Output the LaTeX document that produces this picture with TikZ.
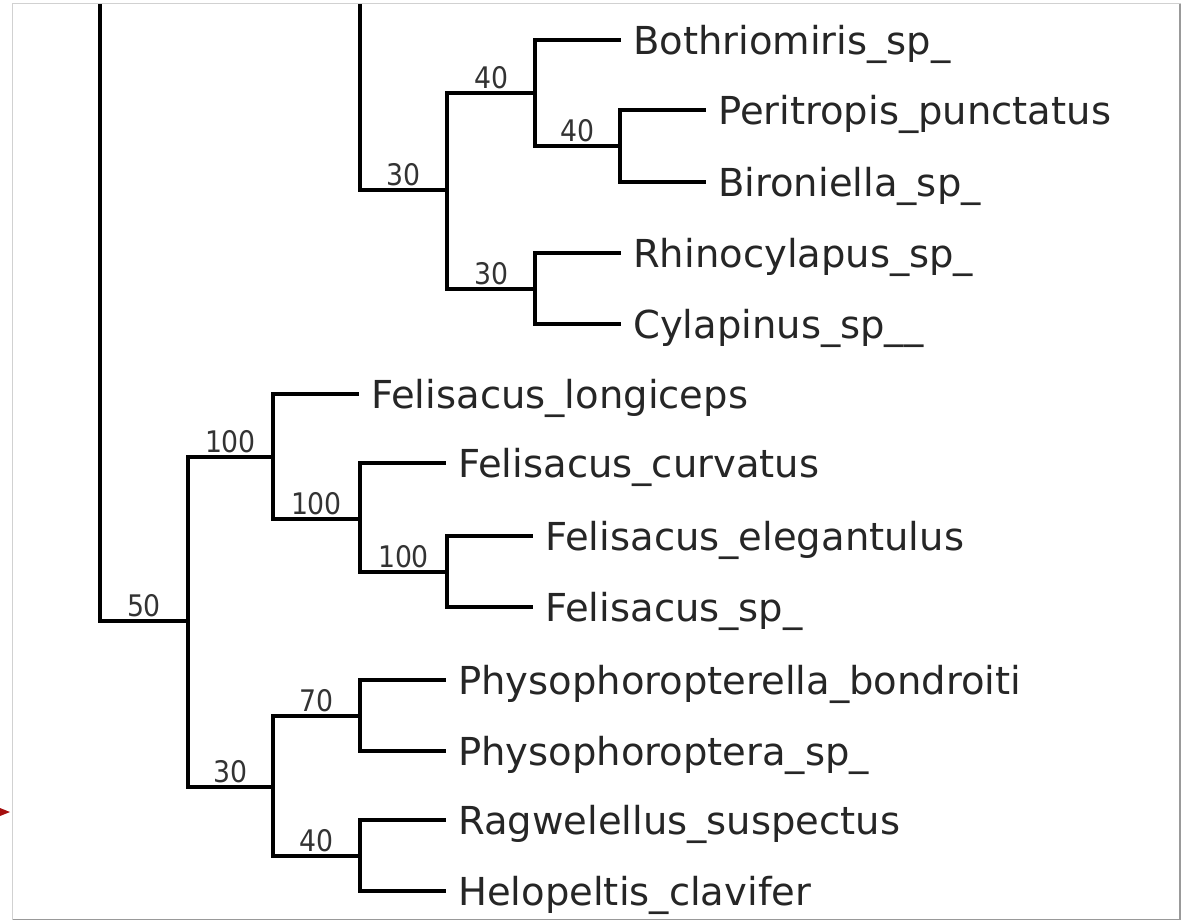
\documentclass[tikz,border=0pt]{standalone}
\usepackage{fontspec}
\setmainfont{DejaVu Sans}
\newfontfamily\condfont{DejaVu Sans Condensed}
\definecolor{arrowred}{RGB}{165,15,15}
\begin{document}
\begin{tikzpicture}[x=1pt, y=-1pt,
    branch/.style={line width=4.3pt, line cap=rect, black},
    leaf/.style={anchor=west, inner xsep=14pt, inner ysep=0pt, text height=28pt, text depth=0pt,
      font=\fontsize{38.5}{40}\selectfont, text=black!85},
    supp/.style={anchor=south, inner sep=0pt, yshift=2pt,
      font=\condfont\fontsize{29.7}{30}\selectfont, text=black!80}]

  \useasboundingbox (0,0) rectangle (1190,921);
  \fill[white] (12.5,3.5) rectangle (1180,919.5);
  \draw[black!18, line width=1pt] (12.5,3.5) rectangle (1180,919.5);
  \draw[black!40, line width=1.5pt] (1180,3.5) -- (1180,919.5) -- (12.5,919.5);
  \fill[arrowred] (0,808) -- (10,812) -- (0,816) -- cycle;

  \begin{scope}
  \clip (13,4) rectangle (1179,919);

  \coordinate (r)  at (100,-80);
  \coordinate (u)  at (360,-40);
  \coordinate (c1) at (447,190);
  \coordinate (c2) at (535,93);
  \coordinate (c3) at (620,146);
  \coordinate (c4) at (535,289);
  \coordinate (f0) at (188,621);
  \coordinate (f1) at (273,457);
  \coordinate (f2) at (360,519);
  \coordinate (f3) at (447,572);
  \coordinate (p1) at (273,787);
  \coordinate (p2) at (360,716);
  \coordinate (p3) at (360,856);

  \node[leaf] (bothr) at (619,40)  {Bothriomiris\_sp\_};
  \node[leaf] (perit) at (704,110) {Peritropis\_punctatus};
  \node[leaf] (biron) at (704,182) {Bironiella\_sp\_};
  \node[leaf] (rhino) at (619,253) {Rhinocylapus\_sp\_};
  \node[leaf] (cylap) at (619,324) {Cylapinus\_sp\_\_};
  \node[leaf] (flong) at (357,394) {Felisacus\_longiceps};
  \node[leaf] (fcurv) at (444,463) {Felisacus\_curvatus};
  \node[leaf] (feleg) at (531,536) {Felisacus\_elegantulus};
  \node[leaf] (fsp)   at (531,607) {Felisacus\_sp\_};
  \node[leaf] (physa) at (444,680) {Physophoropterella\_bondroiti};
  \node[leaf] (physb) at (444,751) {Physophoroptera\_sp\_};
  \node[leaf] (ragw)  at (444,820) {Ragwelellus\_suspectus};
  \node[leaf] (helo)  at (444,891) {Helopeltis\_clavifer};

  \draw[branch] (r) |- (f0) node[supp, pos=0.75] {50};
  \draw[branch] (u) |- (c1) node[supp, pos=0.75] {30};
  \draw[branch] (c1) |- (c2) node[supp, pos=0.75] {40};
  \draw[branch] (c1) |- (c4) node[supp, pos=0.75] {30};
  \draw[branch] (c2) |- (bothr.west);
  \draw[branch] (c2) |- (c3) node[supp, pos=0.75] {40};
  \draw[branch] (c3) |- (perit.west);
  \draw[branch] (c3) |- (biron.west);
  \draw[branch] (c4) |- (rhino.west);
  \draw[branch] (c4) |- (cylap.west);

  \draw[branch] (f0) |- (f1) node[supp, pos=0.75] {100};
  \draw[branch] (f0) |- (p1) node[supp, pos=0.75] {30};
  \draw[branch] (f1) |- (flong.west);
  \draw[branch] (f1) |- (f2) node[supp, pos=0.75] {100};
  \draw[branch] (f2) |- (fcurv.west);
  \draw[branch] (f2) |- (f3) node[supp, pos=0.75] {100};
  \draw[branch] (f3) |- (feleg.west);
  \draw[branch] (f3) |- (fsp.west);
  \draw[branch] (p1) |- (p2) node[supp, pos=0.75] {70};
  \draw[branch] (p1) |- (p3) node[supp, pos=0.75] {40};
  \draw[branch] (p2) |- (physa.west);
  \draw[branch] (p2) |- (physb.west);
  \draw[branch] (p3) |- (ragw.west);
  \draw[branch] (p3) |- (helo.west);
  \end{scope}
\end{tikzpicture}
\end{document}
